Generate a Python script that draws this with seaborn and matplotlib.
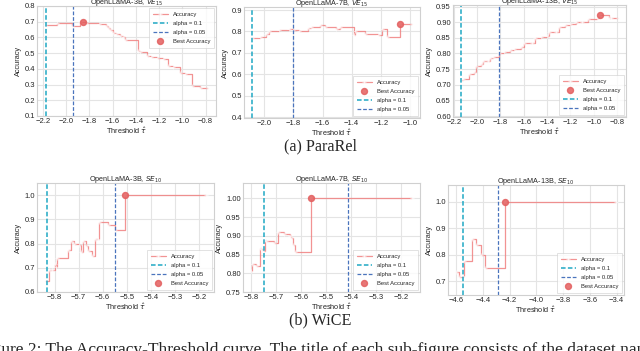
import matplotlib
matplotlib.use("Agg")
import matplotlib.pyplot as plt
import seaborn as sns
import pandas as pd
from matplotlib.ticker import MultipleLocator

sns.set_theme(style="whitegrid")
plt.rcParams['font.family'] = ['Liberation Sans', 'DejaVu Sans']

# ---------------- data ----------------
titles = ["OpenLLaMA-3B, $VE_{15}$", "OpenLLaMA-7B, $VE_{15}$", "OpenLLaMA-13B, $VE_{15}$",
          "OpenLLaMA-3B, $SE_{10}$", "OpenLLaMA-7B, $SE_{10}$", "OpenLLaMA-13B, $SE_{10}$"]

x1 = [-2.18, -2.08, -1.95, -1.88, -1.825, -1.715, -1.66, -1.64, -1.62, -1.60, -1.57, -1.54,
      -1.51, -1.49, -1.38, -1.36, -1.30, -1.27, -1.22, -1.17, -1.12, -1.08, -1.02, -0.98,
      -0.92, -0.85, -0.78]
y1 = [0.68, 0.69, 0.675, 0.70, 0.69, 0.685, 0.67, 0.66, 0.65, 0.63, 0.62, 0.61,
      0.60, 0.585, 0.515, 0.505, 0.48, 0.475, 0.47, 0.46, 0.42, 0.41, 0.375, 0.365,
      0.29, 0.28, 0.28]

x2 = [-2.085, -2.03, -1.99, -1.97, -1.90, -1.83, -1.80, -1.76, -1.70, -1.68, -1.62, -1.585,
      -1.506, -1.48, -1.386, -1.375, -1.31, -1.22, -1.19, -1.156, -1.07, -0.985]
y2 = [0.768, 0.772, 0.79, 0.80, 0.805, 0.81, 0.805, 0.80, 0.815, 0.822, 0.828, 0.82,
      0.81, 0.82, 0.785, 0.80, 0.79, 0.785, 0.81, 0.776, 0.835, 0.835]

x3 = [-2.14, -2.12, -2.07, -2.03, -2.01, -1.97, -1.95, -1.91, -1.89, -1.86, -1.81, -1.77,
      -1.72, -1.68, -1.62, -1.60, -1.53, -1.50, -1.45, -1.40, -1.38, -1.32, -1.30, -1.25,
      -1.20, -1.15, -1.10, -1.05, -0.97, -0.95, -0.87, -0.85, -0.79]
y3 = [0.715, 0.72, 0.735, 0.74, 0.76, 0.765, 0.775, 0.775, 0.785, 0.79, 0.80, 0.805,
      0.81, 0.815, 0.82, 0.835, 0.835, 0.85, 0.853, 0.855, 0.87, 0.87, 0.885, 0.89,
      0.895, 0.90, 0.90, 0.91, 0.915, 0.922, 0.915, 0.912, 0.912]

x4 = [-5.84, -5.823, -5.81, -5.80, -5.795, -5.79, -5.745, -5.731, -5.72, -5.70, -5.69,
      -5.683, -5.67, -5.662, -5.645, -5.63, -5.62, -5.614, -5.576, -5.55, -5.509, -5.17]
y4 = [0.645, 0.69, 0.69, 0.715, 0.705, 0.74, 0.775, 0.81, 0.80, 0.795, 0.765,
      0.81, 0.79, 0.77, 0.75, 0.82, 0.82, 0.89, 0.875, 0.855, 1.0, 1.0]

x5 = [-5.80, -5.795, -5.782, -5.766, -5.76, -5.753, -5.746, -5.74, -5.707, -5.69, -5.668,
      -5.645, -5.64, -5.63, -5.622, -5.56, -5.155]
y5 = [0.805, 0.825, 0.82, 0.868, 0.865, 0.86, 0.889, 0.885, 0.88, 0.91, 0.905,
      0.90, 0.895, 0.875, 0.858, 1.0, 1.0]

x6 = [-4.60, -4.576, -4.55, -4.539, -4.478, -4.454, -4.417, -4.385, -4.234, -3.405]
y6 = [0.735, 0.715, 0.72, 0.778, 0.858, 0.835, 0.80, 0.75, 1.0, 1.0]

best_x = [-1.85, -1.07, -0.944, -5.508, -5.56, -4.234]
best_y = [0.70, 0.835, 0.922, 1.0, 1.0, 1.0]
alpha01 = [-2.171, -2.085, -2.135, -5.83, -5.75, -4.551]
alpha005 = [-1.942, -1.805, -1.81, -5.549, -5.41, -4.288]

# ---------------- layout / style ----------------
W, H = 640, 351
def rect(l, t, r, b):
    return [l / W, 1 - b / H, (r - l) / W, (b - t) / H]

rects = [rect(37, 6, 216, 116), rect(244, 7, 420, 118), rect(453, 5, 626, 117),
         rect(37, 183, 214, 292), rect(243, 183, 420, 292), rect(448, 185, 624, 295)]
ylims = [(0.1, 0.8), (0.397, 0.914), (0.597, 0.955), (0.6, 1.05), (0.75, 1.041), (0.648, 1.063)]
xsteps = [0.2, 0.2, 0.2, 0.1, 0.1, 0.2]
ysteps = [0.1, 0.1, 0.05, 0.1, 0.05, 0.1]
legend_locs = ["upper right", "lower right", "lower right", "lower right", "lower right", "lower right"]
legend_orders = [[0, 2, 3, 1], [0, 1, 2, 3], [0, 1, 2, 3], [0, 2, 3, 1], [0, 2, 3, 1], [0, 2, 3, 1]]

acc_color = "#f08080"
best_color = "#e35f5f"
c01 = "#1fa8c4"
c005 = "#4a74bd"

series = [(x1, y1), (x2, y2), (x3, y3), (x4, y4), (x5, y5), (x6, y6)]

fig = plt.figure(figsize=(6.4, 3.51), dpi=100)

for i, (xs, ys) in enumerate(series):
    ax = fig.add_axes(rects[i])
    df = pd.DataFrame({"Threshold": xs, "Accuracy": ys})
    sns.lineplot(data=df, x="Threshold", y="Accuracy", ax=ax, color=acc_color,
                 drawstyle="steps-post", marker="+", markersize=2.2, linewidth=0.9,
                 alpha=0.85, markeredgewidth=0.5, sort=False, label="Accuracy", legend=False)
    hb, = ax.plot([best_x[i]], [best_y[i]], "o", color=best_color, markersize=4.3,
                  alpha=0.85, label="Best Accuracy", linestyle="none")
    ha = ax.axvline(alpha01[i], color=c01, linestyle="--", linewidth=1.1, dashes=(3, 1.5),
                    label="alpha = 0.1")
    hc = ax.axvline(alpha005[i], color=c005, linestyle="--", linewidth=0.9, dashes=(3, 1.5),
                    label="alpha = 0.05")
    hl = ax.get_lines()[0]
    handles = [hl, hb, ha, hc]
    handles = [handles[k] for k in legend_orders[i]]
    leg = ax.legend(handles=handles, labels=[h.get_label() for h in handles],
                    loc=legend_locs[i], fontsize=4.2, handlelength=2.6, labelspacing=0.7,
                    borderpad=0.6, frameon=True, fancybox=False, borderaxespad=0.4)
    leg.get_frame().set_linewidth(0.5)
    leg.get_frame().set_edgecolor("#cccccc")

    ax.set_ylim(*ylims[i])
    ax.margins(x=0.05)
    ax.xaxis.set_major_locator(MultipleLocator(xsteps[i]))
    ax.yaxis.set_major_locator(MultipleLocator(ysteps[i]))
    ax.tick_params(labelsize=5.5, pad=1.5, length=0)
    ax.set_xlabel("Threshold $\\hat{\\tau}$", fontsize=5.3, labelpad=0.5)
    ax.set_ylabel("Accuracy", fontsize=5.3, labelpad=2)
    ax.set_title(titles[i], fontsize=5.2, pad=1.5)
    ax.grid(True, color="#e4e4e4", linewidth=0.8)
    for s in ax.spines.values():
        s.set_color("#d0d0d0")
        s.set_linewidth(0.8)

serif = ['Liberation Serif', 'DejaVu Serif']
fig.text(0.5, 1 - 146 / H, "(a) ParaRel", ha="center", va="center", fontsize=11.6, family=serif)
fig.text(0.5, 1 - 320.5 / H, "(b) WiCE", ha="center", va="center", fontsize=11.6, family=serif)
fig.text(-22 / W, 1 - 342 / H,
         "Figure 2: The Accuracy-Threshold curve. The title of each sub-figure consists of the dataset name",
         ha="left", va="top", fontsize=12.5, family=serif)

fig.savefig("out.png", dpi=100)
